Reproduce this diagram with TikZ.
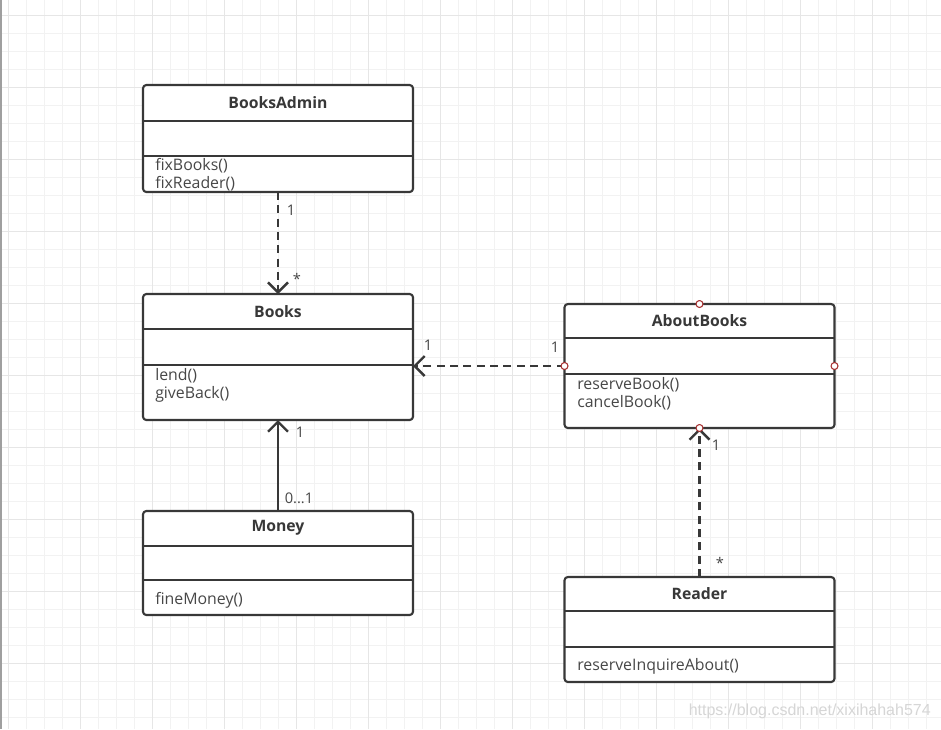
\documentclass[tikz,border=0pt]{standalone}
\usepackage{fontspec}
\setmainfont{Open Sans}
\newfontfamily\wmfont{Liberation Sans}
\usetikzlibrary{arrows.meta}
\definecolor{gridlo}{HTML}{F2F2F2}
\definecolor{gridhi}{HTML}{E6E6E6}
\definecolor{ink}{HTML}{383838}
\definecolor{txt}{HTML}{474747}
\definecolor{handle}{HTML}{A83232}
\definecolor{wmark}{HTML}{D6D6D6}

\begin{document}
\begin{tikzpicture}[line join=round,x=0.75pt,y=-0.75pt,
  cls/.style={draw=ink,line width=1.6pt,rounded corners=2.5pt,fill=white,minimum width=202.5pt,inner sep=0pt,outer sep=0pt},
  div/.style={draw=ink,line width=1.6pt},
  ttl/.style={font=\fontsize{11.8pt}{14pt}\selectfont\bfseries,text=ink},
  ops/.style={anchor=base west,align=left,inner sep=0pt,font=\fontsize{11.9pt}{13.5pt}\selectfont,text=txt},
  lbl/.style={font=\fontsize{11pt}{12pt}\selectfont,text=txt,inner sep=0pt},
  dep/.style={draw=ink,line width=1.8pt,dash pattern=on 6pt off 4pt,-{Straight Barb[length=7.5pt,width=15pt]}},
  assoc/.style={draw=ink,line width=1.8pt,-{Straight Barb[length=7.5pt,width=15pt]}},
  hdl/.style={draw=handle,fill=white,line width=0.8pt}]
\useasboundingbox (0,0) rectangle (941,729);
\fill[white] (0,0) rectangle (941,729);
% grid
\foreach \x in {8.7,26.7,...,941} \draw[gridlo,line width=0.75pt] (\x,0) -- (\x,729);
\foreach \y in {15.7,33.7,...,729} \draw[gridlo,line width=0.75pt] (0,\y) -- (941,\y);
\foreach \x in {8.7,80.7,...,941} \draw[gridhi,line width=0.75pt] (\x,0) -- (\x,729);
\foreach \y in {15.7,87.7,...,729} \draw[gridhi,line width=0.75pt] (0,\y) -- (941,\y);
\draw[gray!75,line width=1.5pt] (1,0) -- (1,729);
%
% classes
\node[cls,minimum height=80.25pt] (admin) at (278,138.5) {};
\node[cls,minimum height=94.5pt] (books) at (278,357) {};
\node[cls,minimum height=78pt] (money) at (278,563) {};
\node[cls,minimum height=93pt] (about) at (699.5,366) {};
\node[cls,minimum height=78.75pt] (reader) at (699.5,629.5) {};
\foreach \y in {121,156,329,365,546,580} \draw[div] (143,\y) -- (413,\y);
\foreach \y in {338,374,611,647} \draw[div] (564.5,\y) -- (834.5,\y);
%
\node[ttl] (adminname) at (278,103) {BooksAdmin};
\node[ttl] (booksname) at (278,312) {Books};
\node[ttl] (moneyname) at (278,528) {Money};
\node[ttl] (aboutname) at (699.5,321) {AboutBooks};
\node[ttl] (readername) at (699.5,594) {Reader};
%
% base = last line
\node[ops] (adminops) at (155,188) {fixBooks()\\fixReader()};
\node[ops] (booksops) at (155,398) {lend()\\giveBack()};
\node[ops] (moneyops) at (155,604) {fineMoney()};
\node[ops] (aboutops) at (577,407) {reserveBook()\\cancelBook()};
\node[ops] (readerops) at (577,670) {reserveInquireAbout()};
%
% links
\draw[dep] (admin.south) -- (books.north);
\draw[dep] (about.west) -- (about.west -| books.east);
\draw[assoc] (money.north) -- (books.south);
\draw[dep] (reader.north) -- (about.south);
%
\node[lbl] (m1) at (291,210) {1};
\node[lbl] (m2) at (297,279) {*};
\node[lbl] (m3) at (428,345) {1};
\node[lbl] (m4) at (555,347) {1};
\node[lbl] (m5) at (300,432) {1};
\node[lbl] (m6) at (299,498) {0...1};
\node[lbl] (m7) at (716,445) {1};
\node[lbl] (m8) at (720,563) {*};
%
\foreach \a in {north,west,east,south} \draw[hdl] (about.\a) circle (3.5);
%
\node[anchor=east,inner sep=0pt,font=\fontsize{12pt}{14pt}\wmfont,text=wmark] (wm) at (931,711) {https://blog.csdn.net/xixihahah574};
\end{tikzpicture}
\end{document}
